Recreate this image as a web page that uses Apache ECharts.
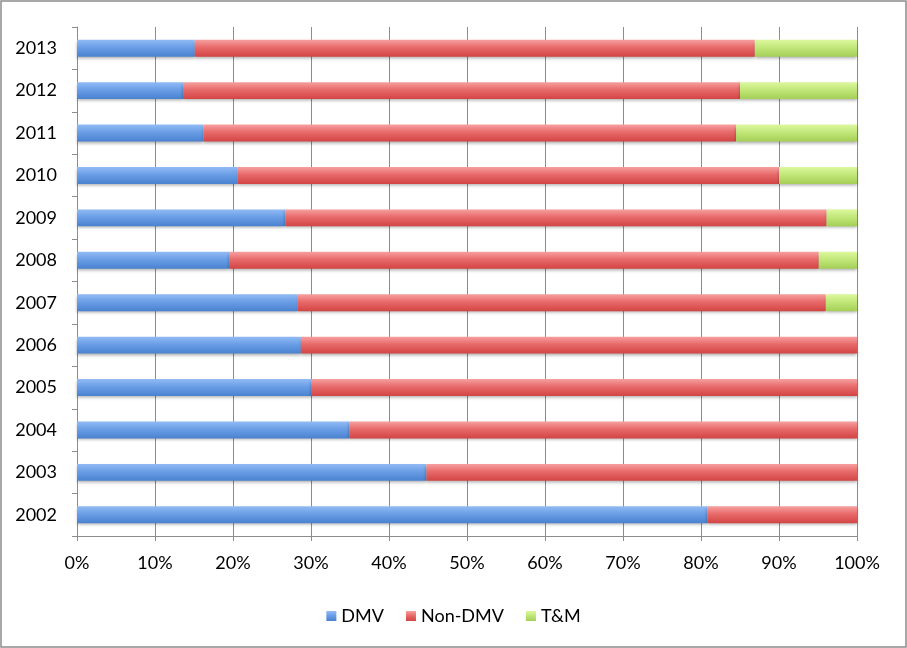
<!DOCTYPE html>
<html>
<head>
<meta charset="utf-8">
<script src="https://cdn.jsdelivr.net/npm/echarts@6/dist/echarts.min.js"></script>
<style>
html,body{margin:0;padding:0;background:#fff;}
#chart{width:907px;height:648px;}
</style>
</head>
<body>
<div id="chart"></div>
<script>
const years = ['2002','2003','2004','2005','2006','2007','2008','2009','2010','2011','2012','2013'];
const dmv    = [80.8, 44.8, 34.9, 30.0, 28.7, 28.3, 19.5, 26.7, 20.6, 16.2, 13.6, 15.1];
const nonDmv = [19.2, 55.2, 65.1, 70.0, 71.3, 67.7, 75.6, 69.4, 69.4, 68.3, 71.4, 71.8];
const tm     = [0, 0, 0, 0, 0, 4.0, 4.9, 3.9, 10.0, 15.5, 15.0, 13.1];
const xTicks = [0,10,20,30,40,50,60,70,80,90,100];

function grad(top, mid, bottom) {
  return new echarts.graphic.LinearGradient(0, 0, 0, 1, [
    {offset: 0, color: top}, {offset: 0.45, color: mid}, {offset: 1, color: bottom}
  ]);
}
const FONT = 'Lato';
const FS = 18;
const chart = echarts.init(document.getElementById('chart'), null, {renderer: 'canvas'});
const barStyle = {shadowBlur: 3, shadowOffsetY: 2, shadowColor: 'rgba(0,0,0,0.3)'};
chart.setOption({
  animation: false,
  textStyle: {fontFamily: FONT},
  graphic: [{
    type: 'rect', silent: true,
    shape: {x: 1, y: 1, width: 905, height: 646},
    style: {fill: 'none', stroke: '#8c8c8c', lineWidth: 1.5}
  }],
  grid: {left: 77, right: 50, top: 27, bottom: 112, containLabel: false},
  legend: {
    left: 'center', top: 602,
    itemWidth: 10, itemHeight: 10, itemGap: 22,
    icon: 'rect',
    textStyle: {fontFamily: FONT, fontSize: FS, color: '#000'},
    data: ['DMV', 'Non-DMV', 'T&M']
  },
  xAxis: {
    type: 'value', min: 0, max: 100, interval: 10,
    axisLine: {show: true, lineStyle: {color: '#8c8c8c', width: 1}},
    axisTick: {show: true, length: 5, lineStyle: {color: '#8c8c8c'}},
    splitLine: {show: true, lineStyle: {color: '#8c8c8c', width: 1}},
    axisLabel: {formatter: v => xTicks.includes(v) ? v + '%' : '', fontFamily: FONT, fontSize: FS, color: '#000', margin: 18}
  },
  yAxis: {
    type: 'category', data: years,
    axisLine: {show: true, lineStyle: {color: '#8c8c8c', width: 1}},
    axisTick: {show: true, length: 5, lineStyle: {color: '#8c8c8c'}},
    axisLabel: {fontFamily: FONT, fontSize: FS, color: '#000', margin: 20}
  },
  series: [
    {name: 'DMV', type: 'bar', stack: 'a', data: dmv, barCategoryGap: '60%',
     itemStyle: Object.assign({color: grad('#92bbf5', '#6a9ee6', '#4a82d0')}, barStyle)},
    {name: 'Non-DMV', type: 'bar', stack: 'a', data: nonDmv,
     itemStyle: Object.assign({color: grad('#f7a0a0', '#e86a6a', '#d24444')}, barStyle)},
    {name: 'T&M', type: 'bar', stack: 'a', data: tm,
     itemStyle: Object.assign({color: grad('#dcf89e', '#c2e77a', '#a4cf56')}, barStyle)}
  ]
});
</script>
</body>
</html>
